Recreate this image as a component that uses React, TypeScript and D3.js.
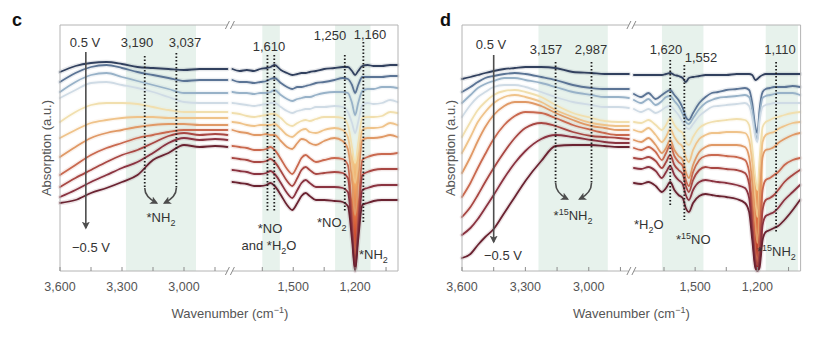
import React from "react";
import * as d3 from "d3";

// Wavenumber grids (cm⁻¹) for each axis segment
const WN_C_LEFT = [3600, 3525, 3450, 3375, 3300, 3225, 3150, 3075, 3000, 2925, 2850, 2790];
const WN_C_RIGHT = [1795, 1760, 1725, 1690, 1660, 1630, 1610, 1590, 1560, 1530, 1505, 1480, 1460, 1440, 1420, 1390, 1350, 1300, 1260, 1235, 1215, 1200, 1185, 1165, 1140, 1110, 1070, 1030, 995];
const WN_D_LEFT = [3600, 3560, 3525, 3490, 3450, 3400, 3350, 3300, 3225, 3157, 3075, 2987, 2925, 2860, 2810];
const WN_D_RIGHT = [1795, 1760, 1725, 1690, 1660, 1640, 1620, 1600, 1580, 1560, 1545, 1530, 1510, 1480, 1450, 1420, 1390, 1350, 1300, 1260, 1240, 1225, 1210, 1200, 1190, 1175, 1160, 1140, 1120, 1100, 1070, 1030, 995];

// Stacked absorption spectra (a.u.), 0.5 V (first) to −0.5 V (last)
const C_LEFT = [
  [19.9, 20.5, 20.8, 20.9, 20.7, 20.4, 20.3, 20.2, 20.1, 20.2, 20.2, 20.2],
  [18.9, 19.8, 20.4, 20.6, 20.3, 19.9, 19.6, 19.3, 19.0, 19.1, 19.1, 19.1],
  [17.9, 18.9, 19.6, 19.8, 19.4, 19.0, 18.6, 18.2, 17.8, 17.8, 17.8, 17.8],
  [17.3, 18.1, 18.8, 18.9, 18.6, 18.3, 17.9, 17.4, 16.9, 16.8, 16.8, 16.8],
  [14.9, 15.9, 16.6, 16.8, 16.8, 16.7, 16.4, 16.1, 15.9, 15.9, 15.9, 15.9],
  [13.3, 14.1, 14.8, 15.1, 15.3, 15.4, 15.4, 15.3, 15.3, 15.3, 15.3, 15.3],
  [11.4, 12.4, 13.3, 13.8, 14.1, 14.4, 14.6, 14.7, 14.7, 14.6, 14.6, 14.6],
  [9.6, 10.6, 11.6, 12.3, 12.8, 13.3, 13.6, 13.9, 14.1, 14.1, 14.1, 14.1],
  [8.4, 9.3, 10.1, 10.9, 11.6, 12.1, 12.8, 13.5, 13.8, 13.6, 13.7, 13.6],
  [7.4, 8.1, 8.9, 9.6, 10.3, 10.9, 11.8, 12.8, 13.3, 13.1, 13.2, 13.1],
  [6.8, 7.1, 7.8, 8.3, 8.9, 9.6, 11.1, 11.8, 12.6, 12.4, 12.5, 12.4],
];

const C_RIGHT = [
  [20.2, 20.0, 20.1, 20.0, 20.2, 20.3, 20.4, 20.6, 20.1, 19.8, 19.6, 19.7, 19.8, 19.8, 19.9, 20.0, 20.2, 20.3, 20.4, 20.4, 20.0, 19.6, 20.0, 20.5, 20.6, 20.5, 20.5, 20.6, 20.6],
  [19.1, 18.9, 18.9, 18.8, 18.9, 19.0, 19.2, 19.3, 18.8, 18.4, 18.2, 18.4, 18.4, 18.5, 18.6, 18.8, 18.9, 19.1, 19.3, 19.2, 18.6, 17.8, 18.6, 19.4, 19.4, 19.4, 19.4, 19.5, 19.5],
  [17.9, 17.8, 17.8, 17.7, 17.8, 17.8, 17.9, 18.1, 17.6, 17.2, 17.0, 17.2, 17.3, 17.4, 17.4, 17.6, 17.8, 17.9, 17.9, 17.8, 16.8, 15.6, 16.8, 18.0, 18.2, 18.2, 18.4, 18.4, 18.3],
  [16.8, 16.7, 16.6, 16.5, 16.6, 16.7, 16.8, 16.8, 16.4, 16.0, 15.8, 16.0, 16.1, 16.2, 16.2, 16.4, 16.4, 16.5, 16.4, 15.9, 14.8, 13.8, 14.9, 16.6, 16.8, 16.7, 16.8, 17.1, 16.9],
  [15.8, 15.7, 15.5, 15.4, 15.5, 15.6, 15.7, 15.7, 15.3, 14.7, 14.5, 14.8, 15.0, 15.1, 15.0, 15.2, 15.4, 15.4, 15.3, 14.6, 12.4, 10.8, 12.8, 15.3, 15.4, 15.4, 15.5, 15.9, 15.8],
  [14.9, 14.8, 14.6, 14.5, 14.6, 14.6, 14.6, 14.7, 14.2, 13.6, 13.4, 13.8, 14.1, 14.2, 13.9, 13.8, 14.1, 14.3, 14.1, 13.4, 10.8, 8.8, 11.1, 14.1, 14.3, 14.3, 14.4, 14.8, 14.6],
  [14.1, 13.9, 13.8, 13.6, 13.6, 13.7, 13.6, 13.6, 13.0, 12.4, 12.2, 12.8, 13.2, 13.1, 12.8, 12.6, 13.0, 13.3, 13.0, 12.2, 9.0, 5.6, 9.0, 13.1, 13.3, 13.3, 13.4, 13.6, 13.4],
  [12.5, 12.4, 12.3, 12.1, 12.1, 12.2, 12.4, 12.1, 11.2, 10.2, 9.7, 10.5, 11.3, 11.6, 11.3, 10.9, 11.1, 11.3, 11.2, 10.6, 5.9, 1.6, 5.9, 11.1, 11.4, 11.6, 11.7, 11.7, 11.8],
  [11.3, 11.2, 11.1, 10.9, 10.9, 11.0, 11.2, 10.9, 10.0, 9.0, 8.5, 9.3, 10.1, 10.4, 10.1, 9.7, 9.8, 9.9, 9.8, 9.3, 4.9, 0.7, 4.9, 9.6, 9.9, 10.1, 10.2, 10.2, 10.2],
  [10.1, 10.0, 9.9, 9.7, 9.7, 9.8, 10.0, 9.7, 8.8, 7.8, 7.3, 8.1, 8.8, 9.1, 8.8, 8.4, 8.4, 8.4, 8.3, 7.9, 3.9, 0.2, 3.9, 8.1, 8.3, 8.5, 8.6, 8.6, 8.6],
  [8.9, 8.8, 8.7, 8.5, 8.5, 8.6, 8.8, 8.5, 7.6, 6.6, 6.1, 6.8, 7.5, 7.8, 7.5, 7.1, 7.1, 7.0, 6.9, 6.5, 3.1, 0.0, 3.1, 6.6, 6.8, 7.0, 7.1, 7.1, 7.1],
];

const D_LEFT = [
  [19.2, 19.4, 19.6, 19.8, 20.0, 20.2, 20.3, 20.4, 20.4, 20.3, 19.9, 19.8, 19.7, 19.7, 19.7],
  [17.9, 18.4, 18.9, 19.3, 19.5, 19.7, 19.8, 19.7, 19.4, 19.1, 18.6, 18.3, 18.2, 18.2, 18.2],
  [16.8, 17.6, 18.3, 18.7, 19.0, 19.3, 19.3, 19.1, 18.8, 18.4, 17.9, 17.6, 17.4, 17.4, 17.3],
  [15.4, 16.6, 17.4, 17.9, 18.4, 18.6, 18.6, 18.4, 17.9, 17.4, 16.9, 16.6, 16.4, 16.4, 16.3],
  [13.4, 14.9, 16.1, 16.9, 17.6, 18.0, 18.1, 17.9, 17.4, 16.6, 15.8, 15.3, 15.0, 14.9, 14.9],
  [11.8, 13.4, 14.9, 15.9, 16.8, 17.4, 17.6, 17.4, 16.9, 16.1, 15.4, 14.8, 14.6, 14.5, 14.5],
  [9.8, 11.4, 13.0, 14.4, 15.6, 16.5, 16.9, 16.9, 16.5, 15.8, 15.1, 14.5, 14.3, 14.1, 14.1],
  [7.4, 8.8, 10.3, 11.7, 13.2, 14.6, 15.5, 15.9, 15.8, 15.3, 14.6, 14.1, 13.8, 13.6, 13.6],
  [5.4, 6.4, 7.6, 8.9, 10.3, 11.9, 13.3, 14.3, 14.8, 14.5, 13.9, 13.5, 13.4, 13.3, 13.2],
  [3.6, 4.3, 5.2, 6.3, 7.6, 9.3, 10.8, 12.0, 13.2, 13.6, 13.4, 13.1, 12.9, 12.8, 12.8],
  [1.3, 1.7, 2.6, 3.4, 4.2, 5.8, 7.4, 9.0, 11.0, 12.5, 12.6, 12.6, 12.5, 12.4, 12.4],
];

const D_RIGHT = [
  [19.6, 19.6, 19.6, 19.6, 19.6, 19.7, 19.8, 19.6, 19.5, 19.3, 18.9, 19.3, 19.4, 19.5, 19.6, 19.6, 19.6, 19.6, 19.7, 19.7, 19.7, 19.6, 19.1, 19.2, 19.4, 19.6, 19.7, 19.7, 19.7, 19.7, 19.7, 19.7, 19.7],
  [17.7, 17.4, 17.8, 17.2, 17.6, 17.9, 18.1, 17.6, 17.1, 16.3, 15.4, 15.1, 15.8, 16.8, 17.4, 17.8, 17.9, 18.1, 18.2, 18.3, 18.1, 16.8, 14.4, 13.8, 16.1, 17.9, 18.2, 18.3, 18.4, 18.4, 18.4, 18.5, 18.4],
  [17.1, 16.8, 17.2, 16.6, 17.0, 17.4, 17.5, 17.0, 16.5, 15.7, 14.9, 14.7, 15.3, 16.2, 16.8, 17.1, 17.3, 17.4, 17.5, 17.6, 17.4, 16.1, 13.8, 13.1, 15.4, 17.3, 17.5, 17.6, 17.7, 17.8, 17.8, 17.8, 17.6],
  [16.2, 15.9, 16.2, 15.8, 16.1, 16.4, 16.5, 16.1, 15.6, 14.9, 14.4, 14.2, 14.7, 15.5, 16.0, 16.4, 16.5, 16.6, 16.7, 16.8, 16.5, 15.3, 13.4, 12.9, 14.9, 16.4, 16.6, 16.7, 16.8, 16.8, 16.8, 16.8, 16.8],
  [14.9, 14.8, 15.1, 14.6, 14.1, 14.6, 15.3, 14.6, 14.1, 13.8, 12.9, 12.6, 13.4, 14.3, 14.7, 14.9, 15.0, 15.1, 15.2, 15.1, 14.6, 12.4, 9.4, 8.1, 11.1, 14.4, 14.9, 15.1, 15.3, 15.4, 15.6, 15.8, 15.9],
  [14.1, 13.9, 14.3, 13.6, 12.9, 13.4, 14.2, 13.4, 12.8, 12.4, 11.4, 10.9, 12.1, 13.2, 13.6, 13.8, 13.8, 13.9, 13.9, 13.8, 13.1, 10.8, 7.1, 5.4, 8.8, 12.9, 13.6, 13.8, 13.9, 14.2, 14.5, 14.8, 14.9],
  [13.1, 12.9, 13.3, 12.6, 11.8, 12.3, 13.1, 12.1, 11.5, 11.1, 9.9, 9.3, 10.6, 11.9, 12.4, 12.6, 12.6, 12.6, 12.6, 12.4, 11.4, 8.8, 4.8, 2.8, 6.8, 11.4, 12.1, 12.2, 12.4, 12.8, 13.2, 13.6, 13.8],
  [12.3, 12.1, 12.4, 11.9, 11.1, 11.8, 12.6, 11.5, 10.9, 10.5, 9.1, 8.5, 9.9, 11.1, 11.5, 11.6, 11.6, 11.5, 11.4, 11.1, 9.9, 6.3, 2.1, 0.9, 3.3, 8.1, 9.1, 9.3, 9.6, 9.9, 10.6, 11.1, 11.3],
  [11.3, 11.2, 11.4, 11.0, 10.3, 10.9, 11.6, 10.6, 10.1, 9.7, 8.5, 7.9, 9.1, 10.1, 10.4, 10.3, 10.3, 10.2, 10.1, 9.8, 8.7, 4.9, 1.3, 0.6, 1.9, 6.1, 7.1, 7.3, 7.6, 8.1, 8.9, 9.6, 10.1],
  [10.3, 10.2, 10.4, 10.0, 9.3, 9.9, 10.5, 9.6, 9.1, 8.7, 7.6, 7.1, 8.1, 8.9, 9.1, 9.0, 8.9, 8.8, 8.6, 8.3, 7.3, 3.9, 0.6, 0.2, 0.9, 4.6, 5.5, 5.7, 5.9, 6.3, 7.1, 7.9, 8.6],
  [8.8, 8.7, 8.9, 8.5, 7.9, 8.3, 8.9, 8.1, 7.6, 7.3, 6.3, 5.9, 6.8, 7.5, 7.7, 7.6, 7.5, 7.4, 7.2, 6.8, 5.9, 3.1, 0.3, 0.0, 0.3, 3.1, 3.9, 4.1, 4.3, 4.5, 5.1, 6.1, 7.1],
];

// Potential colour ramp, 0.5 V → −0.5 V
const SERIES_COLORS = ["#31405e", "#5b7495", "#98b2c8", "#cfdbe5", "#f1dfae", "#efc38a", "#e09966", "#c9694f", "#a84743", "#8a3340", "#6a2331"];

// Highlighted wavenumber regions
const BANDS_C = [[3281, 2942], [1650, 1565], [1297, 1125]];
const BANDS_D = [[3238, 2910], [1660, 1460], [1160, 1005]];

// Axis ticks
const TICKS_LEFT = [3600, 3450, 3300, 3150, 3000, 2850];
const TICKS_RIGHT = [1650, 1500, 1350, 1200, 1050];
const LABELLED_TICKS = [3600, 3300, 3000, 1500, 1200];

const FONT = "'Liberation Sans', Arial, sans-serif";
const TOP = 25;
const BOTTOM = 271;
const yScale = d3.scaleLinear().domain([0, 24.6]).range([BOTTOM, TOP]);

type Scale = d3.ScaleLinear<number, number>;

interface PanelProps {
  id: string;
  x0: number;
  xBreak: number;
  x1: number;
  leftDomain: [number, number];
  rightDomain: [number, number];
  wnLeft: number[];
  wnRight: number[];
  dataLeft: number[][];
  dataRight: number[][];
  bands: number[][];
  spike: [number, number];
  children: (xl: Scale, xr: Scale) => React.ReactNode;
}

function Panel(p: PanelProps) {
  const xl = d3.scaleLinear().domain(p.leftDomain).range([p.x0, p.xBreak - 2.5]);
  const xr = d3.scaleLinear().domain(p.rightDomain).range([p.xBreak + 2.5, p.x1]);
  const mkLine = (xs: Scale, wn: number[]) =>
    d3
      .line<number>()
      .x((_, i) => xs(wn[i]))
      .y((v) => yScale(v))
      .curve(d3.curveMonotoneX);
  const lineL = mkLine(xl, p.wnLeft);
  const lineR = mkLine(xr, p.wnRight);

  const idx = d3.range(p.spike[0], p.spike[1] + 1);
  const top = p.dataRight[4];
  const bot = p.dataRight[p.dataRight.length - 1];
  const spikeArea = d3
    .area<number>()
    .x((i) => xr(p.wnRight[i]))
    .y0((i) => yScale(bot[i]))
    .y1((i) => yScale(top[i]))
    .curve(d3.curveMonotoneX);

  const bandRect = (b: number[], k: number) => {
    const inLeft = b[0] > 2500;
    const xs = inLeft ? xl : xr;
    const a = xs(b[0]);
    const c = xs(b[1]);
    return <rect key={k} x={a} y={TOP} width={c - a} height={BOTTOM - TOP} fill="#e7f2ec" />;
  };

  const frame = "#b4b4b4";
  const bx = p.xBreak;
  const breakMarks = (yy: number) => (
    <g stroke="#8a8a8a" strokeWidth={1}>
      <line x1={bx - 4.5} y1={yy + 4} x2={bx - 0.5} y2={yy - 4} />
      <line x1={bx + 0.5} y1={yy + 4} x2={bx + 4.5} y2={yy - 4} />
    </g>
  );

  return (
    <g>
      <defs>
        <linearGradient id={`spike-${p.id}`} gradientUnits="userSpaceOnUse" x1={0} y1={140} x2={0} y2={BOTTOM}>
          <stop offset="0" stopColor="#f6e2a4" />
          <stop offset="0.35" stopColor="#f0a560" />
          <stop offset="0.7" stopColor="#d8532f" />
          <stop offset="1" stopColor="#a3221e" />
        </linearGradient>
      </defs>
      {p.bands.map(bandRect)}
      <path d={spikeArea(idx) || ""} fill={`url(#spike-${p.id})`} />
      {/* soft halo under each spectrum */}
      <g fill="none" strokeLinejoin="round" strokeLinecap="round" opacity={0.12}>
        {p.dataLeft.map((s, i) => (
          <path key={`hl${i}`} d={lineL(s) || ""} stroke={SERIES_COLORS[i]} strokeWidth={4.5} />
        ))}
        {p.dataRight.map((s, i) => (
          <path key={`hr${i}`} d={lineR(s) || ""} stroke={SERIES_COLORS[i]} strokeWidth={4.5} />
        ))}
      </g>
      <g fill="none" strokeLinejoin="round" strokeLinecap="round">
        {p.dataLeft.map((s, i) => (
          <path key={`l${i}`} d={lineL(s) || ""} stroke={SERIES_COLORS[i]} strokeWidth={1.8} />
        ))}
        {p.dataRight.map((s, i) => (
          <path key={`r${i}`} d={lineR(s) || ""} stroke={SERIES_COLORS[i]} strokeWidth={1.8} />
        ))}
      </g>
      {/* frame with axis break */}
      <g stroke={frame} strokeWidth={1} fill="none">
        <line x1={p.x0} y1={TOP} x2={p.x0} y2={BOTTOM} />
        <line x1={p.x1} y1={TOP} x2={p.x1} y2={BOTTOM} />
        <line x1={p.x0} y1={TOP} x2={bx - 2.5} y2={TOP} />
        <line x1={bx + 2.5} y1={TOP} x2={p.x1} y2={TOP} />
        <line x1={p.x0} y1={BOTTOM} x2={bx - 2.5} y2={BOTTOM} />
        <line x1={bx + 2.5} y1={BOTTOM} x2={p.x1} y2={BOTTOM} />
        {TICKS_LEFT.map((t) => (
          <line key={`tl${t}`} x1={xl(t)} x2={xl(t)} y1={BOTTOM} y2={BOTTOM - 4} stroke="#8c8c8c" />
        ))}
        {TICKS_RIGHT.map((t) => (
          <line key={`tr${t}`} x1={xr(t)} x2={xr(t)} y1={BOTTOM} y2={BOTTOM - 4} stroke="#8c8c8c" />
        ))}
      </g>
      {breakMarks(TOP)}
      {breakMarks(BOTTOM)}
      <g fontFamily={FONT} fontSize={12.5} fill="#555" textAnchor="middle">
        {LABELLED_TICKS.map((t) => (
          <text key={`lab${t}`} x={t > 2500 ? xl(t) : xr(t)} y={291}>
            {d3.format(",")(t)}
          </text>
        ))}
        <text x={bx} y={318} fontSize={13}>
          Wavenumber (cm
          <tspan dy={-5} fontSize={9}>
            −1
          </tspan>
          <tspan dy={5}>)</tspan>
        </text>
      </g>
      {p.children(xl, xr)}
    </g>
  );
}

const DOT = { stroke: "#1e1e1e", strokeWidth: 1.8, strokeDasharray: "1.6 1.9" };
const ARROW = "#4d4d4d";

function Sub({ t }: { t: string }) {
  return (
    <tspan dy={3.5} fontSize={9}>
      {t}
    </tspan>
  );
}

export default function App() {
  return (
    <svg width={830} height={340} style={{ display: "block", position: "absolute", left: 0, top: 0, background: "#fff" }}>
      <defs>
        <marker id="arrowhead" viewBox="0 0 10 10" refX={8} refY={5} markerWidth={8} markerHeight={8} markerUnits="userSpaceOnUse" orient="auto">
          <path d="M0,0 L10,5 L0,10 L2.5,5 Z" fill={ARROW} />
        </marker>
      </defs>
      <rect x={0} y={0} width={830} height={340} fill="#fff" />

      <text x={12} y={26} fontFamily={FONT} fontWeight="bold" fontSize={18} fill="#111">c</text>
      <text x={440} y={26} fontFamily={FONT} fontWeight="bold" fontSize={18} fill="#111">d</text>

      <text transform="translate(51,148) rotate(-90)" textAnchor="middle" fontFamily={FONT} fontSize={13} fill="#555">
        Absorption (a.u.)
      </text>
      <text transform="translate(455,148) rotate(-90)" textAnchor="middle" fontFamily={FONT} fontSize={13} fill="#555">
        Absorption (a.u.)
      </text>

      <Panel
        id="c"
        x0={60}
        xBreak={229.9}
        x1={398}
        leftDomain={[3600, 2790]}
        rightDomain={[1795, 992]}
        wnLeft={WN_C_LEFT}
        wnRight={WN_C_RIGHT}
        dataLeft={C_LEFT}
        dataRight={C_RIGHT}
        bands={BANDS_C}
        spike={[20, 22]}
      >
        {(xl, xr) => (
          <g fontFamily={FONT} fontSize={13} fill="#333">
            <g fill="none">
              <line x1={xl(3190)} x2={xl(3190)} y1={56} y2={188} {...DOT} />
              <line x1={xl(3037)} x2={xl(3037)} y1={53} y2={188} {...DOT} />
              <line x1={xr(1625)} x2={xr(1625)} y1={55} y2={212} {...DOT} />
              <line x1={xr(1592)} x2={xr(1592)} y1={55} y2={212} {...DOT} />
              <line x1={xr(1250)} x2={xr(1250)} y1={55} y2={212} {...DOT} />
              <line x1={xr(1160)} x2={xr(1160)} y1={42} y2={222} {...DOT} />
              <path d={`M${xl(3190)},188 Q${xl(3190)},197 ${xl(3190) + 12},203`} stroke={ARROW} strokeWidth={1.6} markerEnd="url(#arrowhead)" />
              <path d={`M${xl(3037)},188 Q${xl(3037)},197 ${xl(3037) - 12},203`} stroke={ARROW} strokeWidth={1.6} markerEnd="url(#arrowhead)" />
              <line x1={xl(3475)} x2={xl(3475)} y1={52} y2={228} stroke={ARROW} strokeWidth={1.6} markerEnd="url(#arrowhead)" />
            </g>
            <text x={85} y={47} textAnchor="middle">0.5 V</text>
            <text x={91} y={252} textAnchor="middle">−0.5 V</text>
            <text x={137} y={47} textAnchor="middle">3,190</text>
            <text x={185} y={47} textAnchor="middle">3,037</text>
            <text x={269} y={51} textAnchor="middle">1,610</text>
            <text x={330} y={40} textAnchor="middle">1,250</text>
            <text x={370} y={39} textAnchor="middle">1,160</text>
            <text x={161} y={222} textAnchor="middle">
              *NH<Sub t="2" />
            </text>
            <text x={270} y={233} textAnchor="middle">*NO</text>
            <text x={269} y={250} textAnchor="middle">
              and *H<Sub t="2" />
              <tspan dy={-3.5}>O</tspan>
            </text>
            <text x={317} y={227}>
              *NO<Sub t="2" />
            </text>
            <text x={359} y={259}>
              *NH<Sub t="2" />
            </text>
          </g>
        )}
      </Panel>

      <Panel
        id="d"
        x0={462}
        xBreak={631.4}
        x1={800.6}
        leftDomain={[3600, 2810]}
        rightDomain={[1795, 992]}
        wnLeft={WN_D_LEFT}
        wnRight={WN_D_RIGHT}
        dataLeft={D_LEFT}
        dataRight={D_RIGHT}
        bands={BANDS_D}
        spike={[21, 25]}
      >
        {(xl, xr) => (
          <g fontFamily={FONT} fontSize={13} fill="#333">
            <g fill="none">
              <line x1={xl(3157)} x2={xl(3157)} y1={62} y2={183} {...DOT} />
              <line x1={xl(2987)} x2={xl(2987)} y1={62} y2={183} {...DOT} />
              <line x1={xr(1620)} x2={xr(1620)} y1={60} y2={205} {...DOT} />
              <line x1={xr(1552)} x2={xr(1552)} y1={65} y2={220} {...DOT} />
              <line x1={xr(1110)} x2={xr(1110)} y1={62} y2={233} {...DOT} />
              <path d={`M${xl(3157)},183 Q${xl(3157)},193 ${xl(3157) + 12},199`} stroke={ARROW} strokeWidth={1.6} markerEnd="url(#arrowhead)" />
              <path d={`M${xl(2987)},183 Q${xl(2987)},193 ${xl(2987) - 12},199`} stroke={ARROW} strokeWidth={1.6} markerEnd="url(#arrowhead)" />
              <line x1={xl(3450)} x2={xl(3450)} y1={55} y2={242} stroke={ARROW} strokeWidth={1.6} markerEnd="url(#arrowhead)" />
            </g>
            <text x={491} y={49} textAnchor="middle">0.5 V</text>
            <text x={503} y={260} textAnchor="middle">−0.5 V</text>
            <text x={546} y={54} textAnchor="middle">3,157</text>
            <text x={591} y={54} textAnchor="middle">2,987</text>
            <text x={666} y={54} textAnchor="middle">1,620</text>
            <text x={701} y={62} textAnchor="middle">1,552</text>
            <text x={780} y={54} textAnchor="middle">1,110</text>
            <text x={573} y={220} textAnchor="middle">
              *<tspan dy={-5} fontSize={9}>15</tspan>
              <tspan dy={5}>NH</tspan>
              <Sub t="2" />
            </text>
            <text x={634} y={229}>
              *H<Sub t="2" />
              <tspan dy={-3.5}>O</tspan>
            </text>
            <text x={676} y={244}>
              *<tspan dy={-5} fontSize={9}>15</tspan>
              <tspan dy={5}>NO</tspan>
            </text>
            <text x={757} y={256}>
              *<tspan dy={-5} fontSize={9}>15</tspan>
              <tspan dy={5}>NH</tspan>
              <Sub t="2" />
            </text>
          </g>
        )}
      </Panel>
    </svg>
  );
}
